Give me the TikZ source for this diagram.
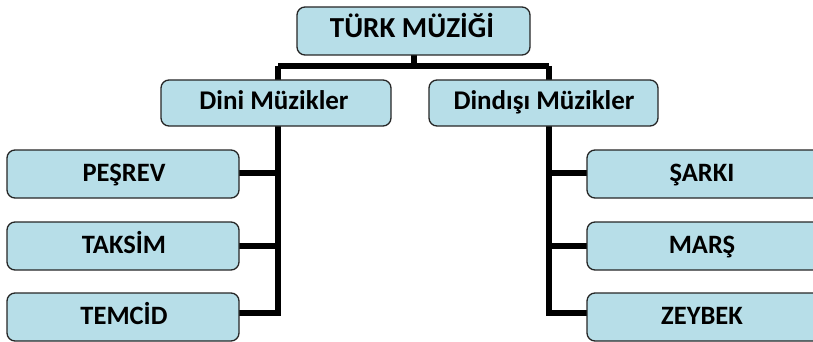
\documentclass[tikz,border=0pt]{standalone}
\usepackage{fontspec}
\setmainfont{Carlito}
\definecolor{boxfill}{HTML}{B7DEE8}
\begin{document}
\begin{tikzpicture}[x=1pt,y=-1pt,
  box/.style={draw=black!85, line width=1.3pt, fill=boxfill, rounded corners=8pt},
  lbl/.style={font=\bfseries\fontsize{#1}{#1}\selectfont, anchor=base, inner sep=0pt},
  conn/.style={line width=5.5pt, draw=black}]
\useasboundingbox (0,0) rectangle (813,342);
\begin{scope}
\clip (0,0) rectangle (813,342);
% connectors
\coordinate (top) at (414,55);
\coordinate (jL) at (278,66);
\coordinate (jR) at (549,66);
\coordinate (jT) at (414,66);
\coordinate (bL) at (278,313);
\coordinate (bR) at (549,313);
\draw[conn] (top) -- (jT);
\draw[conn] (jL) -- (jR);
\draw[conn] (jL) -- (278,80);
\draw[conn] (jR) -- (549,80);
\draw[conn] (278,126) -- (bL) -- (239,313);
\draw[conn] (278,173) -- (239,173);
\draw[conn] (278,246) -- (239,246);
\draw[conn] (549,126) -- (bR) -- (587,313);
\draw[conn] (549,173) -- (587,173);
\draw[conn] (549,246) -- (587,246);
% boxes
\draw[box] (297,7) rectangle (530,55);
\node[lbl=29] (t) at (412,37.5) {TÜRK MÜZİĞİ};
\draw[box] (161,80) rectangle (391,126);
\node[lbl=27] (d) at (274,109.5) {Dini Müzikler};
\draw[box] (429,80) rectangle (658,126);
\node[lbl=27] (dd) at (544,109.5) {Dindışı Müzikler};
\foreach \y/\t [count=\i] in {150/PEŞREV,222/TAKSİM,293/TEMCİD}{
  \draw[box] (7,\y) rectangle (239,\y+48);
  \node[lbl=26.5] (l\i) at (124,\y+31.5) {\t};
}
\foreach \y/\t [count=\i] in {150/ŞARKI,222/MARŞ,293/ZEYBEK}{
  \draw[box] (587,\y) rectangle (823,\y+48);
  \node[lbl=26.5] (r\i) at (702,\y+31.5) {\t};
}
\end{scope}
\end{tikzpicture}
\end{document}
